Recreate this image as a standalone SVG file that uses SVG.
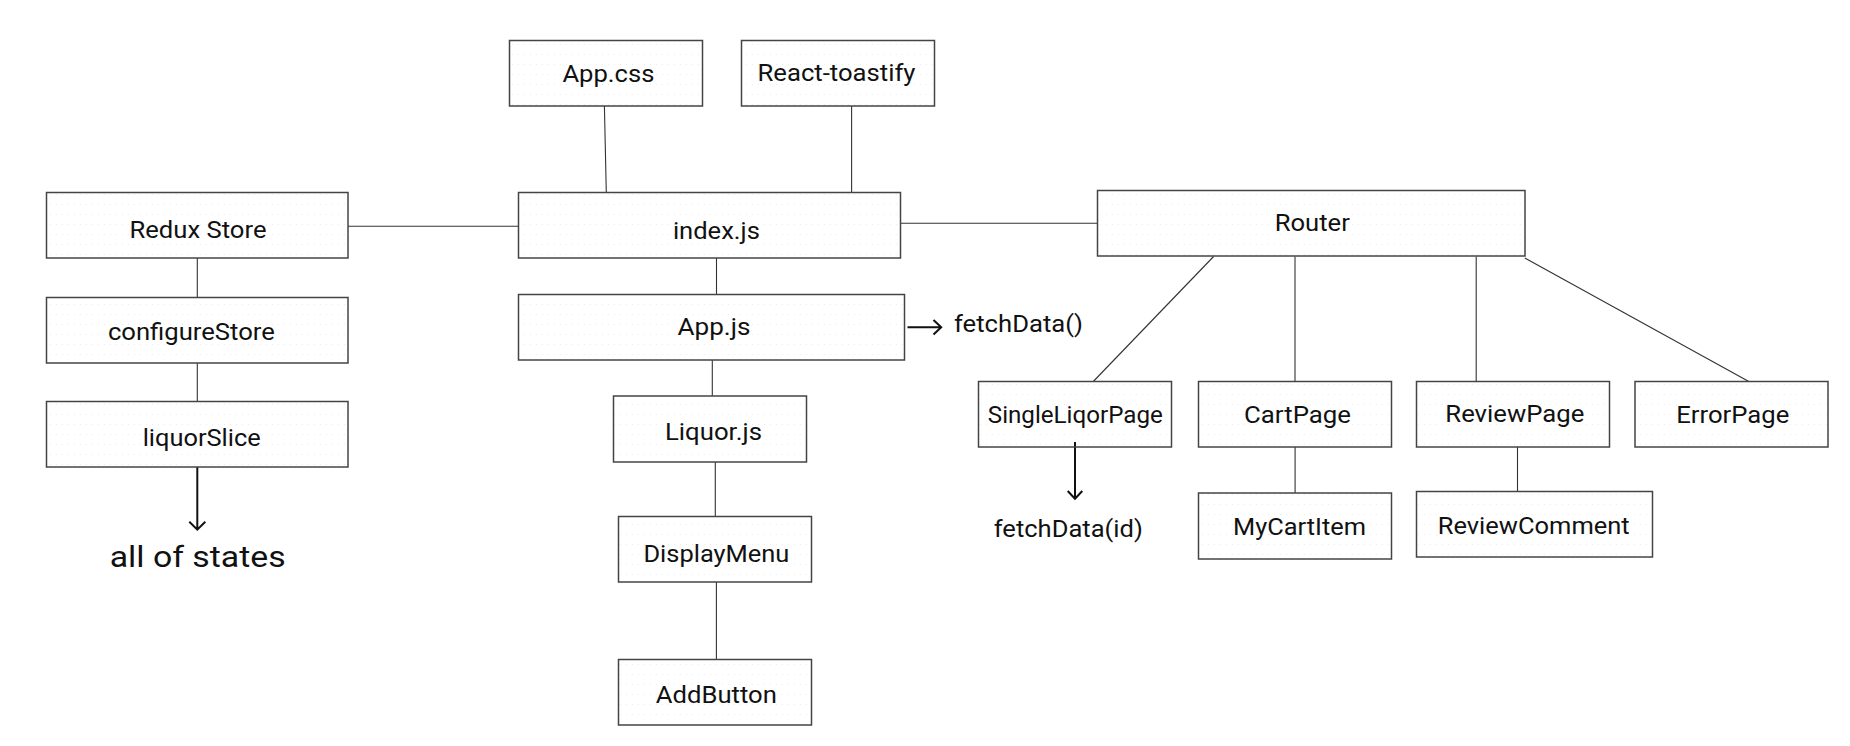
<svg xmlns="http://www.w3.org/2000/svg" width="1850" height="746" viewBox="0 0 1850 746">
<defs>
<pattern id="dots" x="0" y="0" width="6" height="10" patternUnits="userSpaceOnUse">
<rect x="2" y="4" width="1" height="1" fill="#ececec"/>
</pattern>
</defs>
<style>
.box{fill:url(#dots);stroke:#444;stroke-width:1.5}
.lbl{font-family:Roboto,"Liberation Sans",sans-serif;font-size:24px;fill:#111;text-anchor:middle}
.lbl2{font-family:Roboto,"Liberation Sans",sans-serif;font-size:24px;fill:#111}
.big{font-family:Roboto,"Liberation Sans",sans-serif;font-size:30px;fill:#111;text-anchor:middle}
.ln{fill:none;stroke:#333;stroke-width:1.1}
.arr{fill:none;stroke:#111;stroke-width:2}
</style>
<rect width="1850" height="746" fill="#fff"/>
<g id="connectors">
<path class="ln" d="M348 226.3H518.5"/>
<path class="ln" d="M197.3 258V297.5"/>
<path class="ln" d="M197.3 363V401.5"/>
<path class="ln" d="M604.4 106L606.3 192.5"/>
<path class="ln" d="M851.6 106V192.5"/>
<path class="ln" d="M900.5 223.3H1097.5"/>
<path class="ln" d="M716.5 258V294.5"/>
<path class="ln" d="M712.3 360V396"/>
<path class="ln" d="M715.3 462V516.5"/>
<path class="ln" d="M716.4 582V659.5"/>
<path class="ln" d="M1213.6 256.5L1093.3 381.5"/>
<path class="ln" d="M1295 256.5V381.5"/>
<path class="ln" d="M1476.2 256.5V381.5"/>
<path class="ln" d="M1524.8 258L1748.8 381.5"/>
<path class="ln" d="M1295.1 447V493"/>
<path class="ln" d="M1517.5 447V491.5"/>
<path class="arr" d="M197.3 467V529.5M189.3 521.7L197.3 529.7L205.3 521.7"/>
<path class="arr" d="M907.5 327.3H941M933.5 320L941.2 327.3L933.5 334.6"/>
<path class="arr" d="M1075 442V498.5M1067.7 491L1075 498.7L1082.3 491"/>
</g>
<g id="n-appcss"><rect class="box" x="509.5" y="40.5" width="193" height="65.5"/><text class="lbl" x="608.4" y="82.3" textLength="92" lengthAdjust="spacingAndGlyphs">App.css</text></g>
<g id="n-toastify"><rect class="box" x="741.5" y="40.5" width="193" height="65.5"/><text class="lbl" x="836.5" y="81" textLength="158" lengthAdjust="spacingAndGlyphs">React-toastify</text></g>
<g id="n-redux"><rect class="box" x="46.5" y="192.5" width="301.5" height="65.5"/><text class="lbl" x="198" y="237.7" textLength="137" lengthAdjust="spacingAndGlyphs">Redux Store</text></g>
<g id="n-index"><rect class="box" x="518.5" y="192.5" width="382" height="65.5"/><text class="lbl" x="716.4" y="239" textLength="87" lengthAdjust="spacingAndGlyphs">index.js</text></g>
<g id="n-router"><rect class="box" x="1097.5" y="190.5" width="427.5" height="65.5"/><text class="lbl" x="1312.3" y="230.7" textLength="75" lengthAdjust="spacingAndGlyphs">Router</text></g>
<g id="n-configure"><rect class="box" x="46.5" y="297.5" width="301.5" height="65.5"/><text class="lbl" x="191.4" y="340" textLength="167" lengthAdjust="spacingAndGlyphs">configureStore</text></g>
<g id="n-appjs"><rect class="box" x="518.5" y="294.5" width="386" height="65.5"/><text class="lbl" x="714" y="335" textLength="73" lengthAdjust="spacingAndGlyphs">App.js</text></g>
<g id="t-fetch"><text class="lbl2" x="954" y="331.7" textLength="129" lengthAdjust="spacingAndGlyphs">fetchData()</text></g>
<g id="n-slice"><rect class="box" x="46.5" y="401.5" width="301.5" height="65.5"/><text class="lbl" x="201.7" y="445.7" textLength="118" lengthAdjust="spacingAndGlyphs">liquorSlice</text></g>
<g id="t-states"><text class="big" x="197.7" y="567" textLength="176" lengthAdjust="spacingAndGlyphs">all of states</text></g>
<g id="n-liquor"><rect class="box" x="613.5" y="396" width="193" height="66"/><text class="lbl" x="713.5" y="440" textLength="97" lengthAdjust="spacingAndGlyphs">Liquor.js</text></g>
<g id="n-display"><rect class="box" x="618.5" y="516.5" width="193" height="65.5"/><text class="lbl" x="716.4" y="561.7" textLength="146" lengthAdjust="spacingAndGlyphs">DisplayMenu</text></g>
<g id="n-add"><rect class="box" x="618.5" y="659.5" width="193" height="65.5"/><text class="lbl" x="716.3" y="702.7" textLength="121" lengthAdjust="spacingAndGlyphs">AddButton</text></g>
<g id="n-single"><rect class="box" x="978.5" y="381.5" width="193" height="65.5"/><text class="lbl" x="1075.3" y="422.7" textLength="175" lengthAdjust="spacingAndGlyphs">SingleLiqorPage</text></g>
<g id="t-fetchid"><text class="lbl" x="1068.3" y="537.3" textLength="149" lengthAdjust="spacingAndGlyphs">fetchData(id)</text></g>
<g id="n-cart"><rect class="box" x="1198.5" y="381.5" width="193" height="65.5"/><text class="lbl" x="1297.5" y="422.7" textLength="107" lengthAdjust="spacingAndGlyphs">CartPage</text></g>
<g id="n-review"><rect class="box" x="1416.5" y="381.5" width="193" height="65.5"/><text class="lbl" x="1514.8" y="421.7" textLength="139" lengthAdjust="spacingAndGlyphs">ReviewPage</text></g>
<g id="n-error"><rect class="box" x="1635" y="381.5" width="193" height="65.5"/><text class="lbl" x="1732.8" y="422.7" textLength="113" lengthAdjust="spacingAndGlyphs">ErrorPage</text></g>
<g id="n-mycart"><rect class="box" x="1198.5" y="493" width="193" height="66"/><text class="lbl" x="1299.5" y="535" textLength="133" lengthAdjust="spacingAndGlyphs">MyCartItem</text></g>
<g id="n-comment"><rect class="box" x="1416.5" y="491.5" width="236" height="65.5"/><text class="lbl" x="1533.7" y="534" textLength="192" lengthAdjust="spacingAndGlyphs">ReviewComment</text></g>
</svg>
